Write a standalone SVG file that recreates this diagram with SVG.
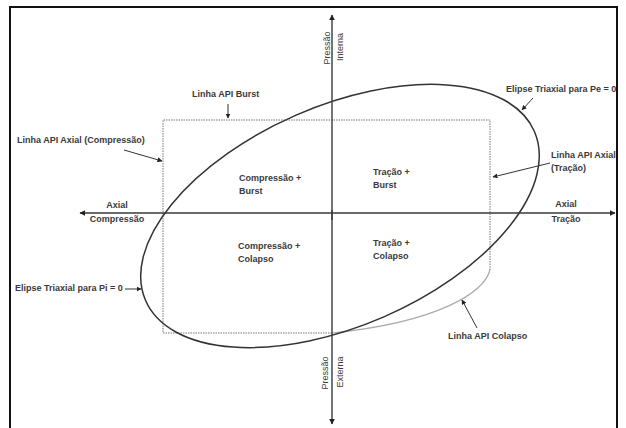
<svg xmlns="http://www.w3.org/2000/svg" width="626" height="428" viewBox="0 0 626 428">
<defs>
<style>
.lbl{font-family:"Liberation Sans",Arial,sans-serif;font-size:9px;font-weight:bold;fill:#3a3a3a}
.ax{font-family:"Liberation Sans",Arial,sans-serif;font-size:9px;fill:#3a3a3a}
.axis{stroke:#3a3a3a;stroke-width:1.4;fill:none}
.ptr{stroke:#333;stroke-width:1;fill:none}
</style>
<marker id="ah" viewBox="0 0 10 10" refX="9" refY="5" markerWidth="6" markerHeight="6" markerUnits="userSpaceOnUse" orient="auto"><path d="M0,0 L10,5 L0,10 z" fill="#222"/></marker>
<marker id="sh" viewBox="0 0 10 10" refX="9" refY="5" markerWidth="5" markerHeight="5" markerUnits="userSpaceOnUse" orient="auto"><path d="M0,0 L10,5 L0,10 z" fill="#222"/></marker>
</defs>
<rect x="0" y="0" width="626" height="428" fill="#fff"/>
<rect x="10" y="7" width="607" height="440" fill="none" stroke="#111" stroke-width="2"/>

<g id="api-lines">
<path d="M332,333 H163 V120 H490 V270" fill="none" stroke="#777" stroke-width="1" stroke-dasharray="1.5,1"/>
<path d="M490,270 C484,292 440,322 332,333" fill="none" stroke="#aaa" stroke-width="1.2"/>
</g>

<g id="ellipse">
<ellipse cx="340" cy="216" rx="212" ry="110" transform="rotate(-23.5 340 216)" fill="none" stroke="#333" stroke-width="1.5"/>
</g>

<g id="connectors">
<line class="axis" x1="610" y1="213" x2="80" y2="213" marker-end="url(#ah)"/>
<line class="axis" x1="610" y1="213" x2="615" y2="213" marker-end="url(#ah)"/>
<line class="axis" x1="332" y1="220" x2="332" y2="15" marker-end="url(#ah)"/>
<line class="axis" x1="332" y1="210" x2="332" y2="424" marker-end="url(#ah)"/>
<line class="ptr" x1="228" y1="104" x2="228" y2="118" marker-end="url(#sh)"/>
<line class="ptr" x1="533" y1="98" x2="522" y2="110" marker-end="url(#sh)"/>
<line class="ptr" x1="124" y1="150" x2="162" y2="161" marker-end="url(#sh)"/>
<line class="ptr" x1="550" y1="163" x2="493" y2="177" marker-end="url(#sh)"/>
<line class="ptr" x1="125" y1="289" x2="141" y2="289" marker-end="url(#sh)"/>
<line class="ptr" x1="477" y1="328" x2="462" y2="300" marker-end="url(#sh)"/>
</g>

<g id="axis-labels">
<text class="lbl" x="117" y="208" text-anchor="middle">Axial</text>
<text class="lbl" x="117" y="222" text-anchor="middle">Compressão</text>
<text class="lbl" x="566" y="207" text-anchor="middle">Axial</text>
<text class="lbl" x="566" y="222" text-anchor="middle">Tração</text>
<text class="ax" transform="translate(330,48) rotate(-90)" text-anchor="middle">Pressão</text>
<text class="ax" transform="translate(343,47) rotate(-90)" text-anchor="middle">Interna</text>
<text class="ax" transform="translate(328,373) rotate(-90)" text-anchor="middle">Pressão</text>
<text class="ax" transform="translate(343,372) rotate(-90)" text-anchor="middle">Externa</text>
</g>

<g id="q-comp-burst"><text class="lbl" x="239" y="181">Compressão +</text><text class="lbl" x="239" y="194">Burst</text></g>
<g id="q-trac-burst"><text class="lbl" x="373" y="175">Tração  +</text><text class="lbl" x="373" y="188">Burst</text></g>
<g id="q-comp-colapso"><text class="lbl" x="238" y="249">Compressão +</text><text class="lbl" x="238" y="262">Colapso</text></g>
<g id="q-trac-colapso"><text class="lbl" x="373" y="246">Tração  +</text><text class="lbl" x="373" y="259">Colapso</text></g>

<g id="label-burst"><text class="lbl" x="192" y="97">Linha API Burst</text></g>
<g id="label-pe"><text class="lbl" x="506" y="92" font-size="8.7">Elipse Triaxial para Pe = 0</text></g>
<g id="label-axial-comp"><text class="lbl" x="17" y="143">Linha API Axial (Compressão)</text></g>
<g id="label-axial-trac"><text class="lbl" x="551" y="158">Linha API Axial</text><text class="lbl" x="551" y="171">(Tração)</text></g>
<g id="label-pi"><text class="lbl" x="15" y="291">Elipse Triaxial para Pi = 0</text></g>
<g id="label-colapso"><text class="lbl" x="448" y="339">Linha API Colapso</text></g>
</svg>
